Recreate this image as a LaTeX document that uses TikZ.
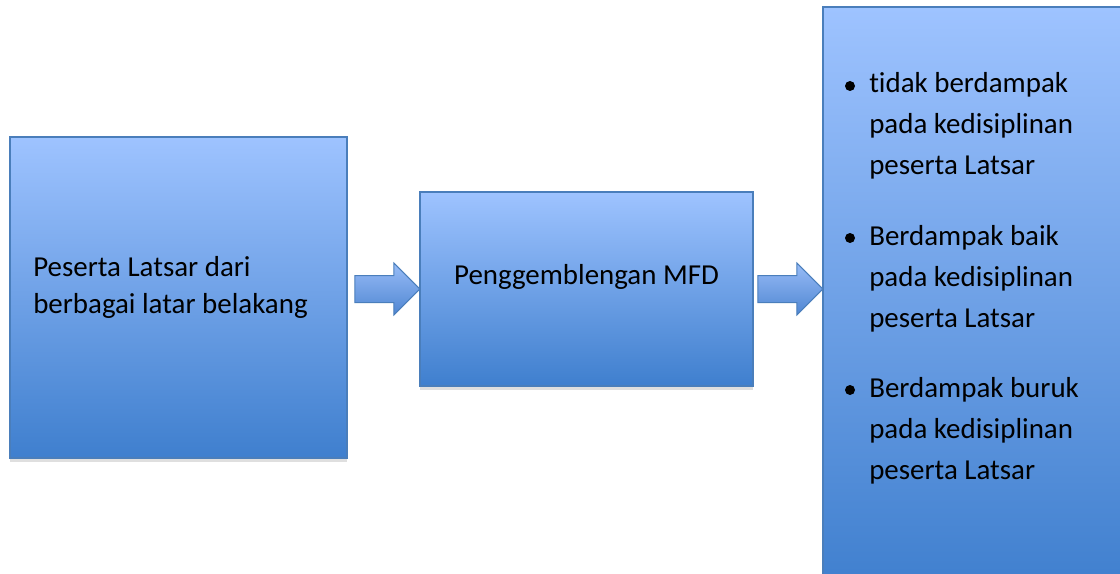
\documentclass[tikz,border=0pt]{standalone}
\usepackage{fontspec}
\setmainfont{Carlito}[Ligatures=NoCommon]
\usetikzlibrary{shapes.arrows,shadows,calc}
\definecolor{boxtop}{HTML}{9EC3FF}
\definecolor{boxbot}{HTML}{3F7FCE}
\definecolor{boxline}{HTML}{4A7EBB}
\definecolor{arrtop}{HTML}{98BCF7}
\definecolor{arrbot}{HTML}{4F86D2}
\tikzset{blk/.style={rectangle,draw=boxline,line width=1.5pt,top color=boxtop,bottom color=boxbot,
    drop shadow={shadow xshift=0pt,shadow yshift=-3pt,opacity=.25},inner sep=0pt},
  barrow/.style={single arrow,draw=boxline,line width=.75pt,top color=arrtop,bottom color=arrbot,
    minimum height=48.75pt,minimum width=38.25pt,single arrow head extend=9.375pt,
    inner xsep=0pt,inner ysep=9.75pt},
  lbl/.style={font=\fontsize{21.7}{27.75}\selectfont,inner sep=0pt,align=left},
  itm/.style={font=\fontsize{21.7}{30.75}\selectfont,inner sep=0pt,align=left,anchor=base west},
  bul/.style={circle,fill=black,inner sep=0pt,minimum size=7.5pt}}
\begin{document}
\begin{tikzpicture}[x=.75pt,y=-.75pt]
\useasboundingbox (0,0) rectangle (1120,574);
% boxes
\node[blk,minimum width=252.75pt,minimum height=240.75pt] (b1) at (178.5,297.5) {};
\node[blk,minimum width=249.75pt,minimum height=145.5pt] (b2) at (586.5,289) {};
\node[blk,minimum width=230.25pt,minimum height=437.25pt] (b3) at (976.5,298.5) {};
% block arrows
\node[barrow,anchor=tip] (a1) at ($(b2.west)+(1.5,0)$) {};
\node[barrow,anchor=tip] (a2) at ($(b3.west |- b2.west)+(1.5,0)$) {};
% texts (base = last line)
\node[lbl,anchor=base west] (t1) at (33,313) {Peserta Latsar dari\\berbagai latar belakang};
\node[lbl,anchor=base] (t2) at (586.5,284) {Penggemblengan MFD};
\node[bul] (d1) at (850,86) {};
\node[bul] (d2) at (850,238) {};
\node[bul] (d3) at (850,390) {};
\node[itm] (i1) at (869,175) {tidak berdampak\\pada kedisiplinan\\peserta Latsar};
\node[itm] (i2) at (869,327) {Berdampak baik\\pada kedisiplinan\\peserta Latsar};
\node[itm] (i3) at (869,479) {Berdampak buruk\\pada kedisiplinan\\peserta Latsar};
\end{tikzpicture}
\end{document}
